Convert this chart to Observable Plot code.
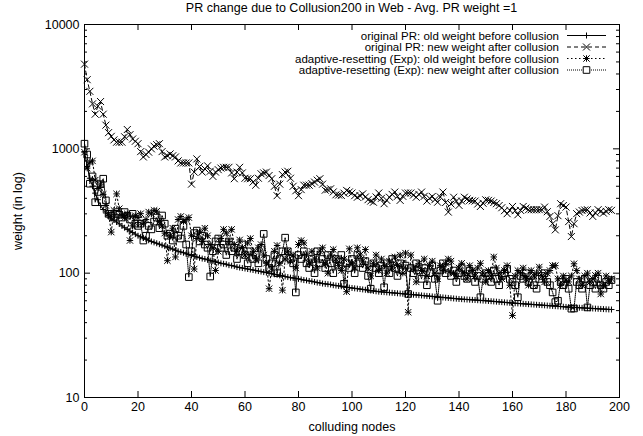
<!DOCTYPE html>
<html><head><meta charset="utf-8">
<script src="https://cdn.jsdelivr.net/npm/d3@7"></script>
<script src="https://cdn.jsdelivr.net/npm/@observablehq/plot@0.6"></script>
<style>
body{margin:0;background:#fff;font-family:"Liberation Sans",Arial,sans-serif;}
#wrap{position:relative;width:643px;height:436px;overflow:hidden;}
#title{position:absolute;left:84px;top:1px;width:535px;text-align:center;font-size:12.5px;line-height:15px;color:#000;}
#chart{position:absolute;left:0;top:16px;}
#legend{position:absolute;left:0;top:0;pointer-events:none;}
</style></head><body>
<div id="wrap">
<div id="title">PR change due to Collusion200 in Web - Avg. PR weight =1</div>
<div id="chart"></div>
<svg id="legend" width="643" height="436"></svg>
</div>
<script>
const titleText = "PR change due to Collusion200 in Web - Avg. PR weight =1";
const seriesNames = [
  "original PR: old weight before collusion",
  "original PR: new weight after collusion",
  "adaptive-resetting (Exp): old weight before collusion",
  "adaptive-resetting (Exp): new weight after collusion"
];
const xTicks = [0,20,40,60,80,100,120,140,160,180,200];
const yTicks = [10,100,1000,10000];
const yMinor = [20,30,40,50,60,70,80,90,200,300,400,500,600,700,800,900,2000,3000,4000,5000,6000,7000,8000,9000];

// original PR: old weight before collusion (index = colluding node)
const origOld = [950,720,580,500,440,390,350,325,305,290,278,268,258,249,240,232,225,218,212,206,
200,196,192,188,184,180,177,174,171,168,165,162,159,156,153,150,148,146,143,141,
139,137,135,133,131,130,128,126,125,123,122,120,119,118,116,115,114,112,111,110,
109,108,107,106,105,104,103,102,101,100,99,98,97,96,95,94,93,92,91.5,90.5,
90,89,88,87.5,86.5,86,85,84,83.5,82.5,82,81.5,81,80,79.5,79,78.5,78,77,76.5,
76,75.5,75,74.5,74,73.5,73,72.5,72,71.5,71,70.7,70.4,70.1,69.8,69.5,69.2,68.9,68.6,68.3,
68,67.7,67.4,67.1,66.8,66.5,66.2,65.9,65.6,65.3,65,64.7,64.4,64.1,63.8,63.5,63.2,62.9,62.6,62.3,
62,61.8,61.6,61.4,61.2,61,60.8,60.6,60.4,60.2,60,59.75,59.5,59.25,59,58.75,58.5,58.25,58,57.75,
57.5,57.3,57.1,56.9,56.7,56.5,56.3,56.1,55.9,55.7,55.5,55.3,55.1,54.9,54.7,54.5,54.3,54.1,53.9,53.7,
53.5,53.35,53.2,53.05,52.9,52.75,52.6,52.45,52.3,52.15,52,51.85,51.7,51.55,51.4,51.25,51.1,51.0];

// original PR: new weight after collusion
const origNew = [4800,3600,2900,2300,1900,2200,2400,1900,1550,1350,1260,1180,1130,1130,1130,1250,1430,1300,1200,1150,
1100,950,860,900,940,1000,1050,1080,1100,950,860,880,910,880,860,800,770,770,770,770,
520,650,830,720,650,690,730,660,600,650,680,700,710,710,710,640,575,650,710,640,
580,575,575,540,510,580,630,640,650,610,575,500,420,520,620,650,660,580,500,460,
420,470,510,510,510,525,540,560,575,520,465,470,477,450,427,425,422,440,463,450,
441,420,408,420,434,410,390,380,372,410,441,400,362,385,408,430,449,415,385,415,
441,441,441,425,408,430,449,415,380,400,414,390,372,410,449,370,310,360,408,380,
351,380,408,395,385,382,380,360,344,365,389,385,380,370,362,350,336,318,301,320,
344,318,295,320,344,334,324,324,324,324,324,324,340,312,286,250,223,290,362,350,
340,260,197,250,301,310,319,322,324,305,286,305,324,314,304,314,324,320];

// adaptive-resetting (Exp): old weight before collusion
const adaptOld = [940,700,780,800,560,480,520,430,350,300,214,320,434,330,290,280,300,183,240,290,
280,301,250,270,310,300,320,315,260,240,210,126,200,230,135,270,286,260,270,280,
200,108,190,215,180,230,200,170,160,105,150,190,225,210,180,225,170,150,185,160,
140,175,190,150,130,160,170,140,120,75,110,150,167,120,73,130,150,125,140,110,
170,183,175,140,120,150,130,110,150,160,120,100,140,155,130,115,105,130,71,157,
120,110,160,140,125,155,110,95,120,140,105,130,115,100,125,110,135,115,140,100,
145,48.5,140,110,85,120,105,130,95,115,125,100,90,115,105,120,130,125,100,95,
110,120,100,90,115,105,95,110,120,100,85,105,95,135,110,100,90,105,115,80,
45.7,95,105,100,110,90,80,105,95,100,112,95,85,100,105,115,115,90,80,95,
88,85,95,119,105,90,80,95,100,85,90,96,100,68,80,95,87,90];

// adaptive-resetting (Exp): new weight after collusion
const adaptNew = [1100,900,524,600,372,450,520,575,385,300,290,280,300,295,280,310,290,270,300,250,
240,250,183,200,240,225,260,280,230,291,250,200,208,183,228,200,190,240,170,93,
150,210,220,180,200,170,160,94,150,180,190,160,170,140,180,150,160,130,150,170,
140,120,150,130,140,120,160,207,130,110,120,140,100,130,150,193,150,130,120,70,
140,130,150,120,110,130,100,150,120,130,110,140,120,100,130,115,140,82,120,110,
130,100,140,120,110,125,95,75,120,110,100,115,77,120,100,130,110,95,120,105,
115,68,110,100,120,105,90,110,80,100,115,90,60,105,120,100,110,95,105,85,
100,110,95,90,105,100,85,95,64,90,100,95,85,105,90,80,95,100,108,90,
85,80,64,95,90,100,85,95,80,75,90,95,100,85,80,70,58.5,60,85,80,
90,75,51.8,52,85,80,75,90,53,80,85,75,90,80,75,85,80,88];

const seriesValues = [origOld, origNew, adaptOld, adaptNew];

// gnuplot-like point symbols (stroked)
const half = size => Math.sqrt(size / Math.PI);
const symPlus = {draw(c, s){const h=half(s); c.moveTo(-h,0); c.lineTo(h,0); c.moveTo(0,-h); c.lineTo(0,h);}};
const symTimes = {draw(c, s){const h=half(s); c.moveTo(-h,-h); c.lineTo(h,h); c.moveTo(-h,h); c.lineTo(h,-h);}};
const symStar = {draw(c, s){const h=half(s); c.moveTo(-h,0); c.lineTo(h,0); c.moveTo(0,-h); c.lineTo(0,h); c.moveTo(-h,-h); c.lineTo(h,h); c.moveTo(-h,h); c.lineTo(h,-h);}};
const symSquare = {draw(c, s){const h=half(s); c.moveTo(-h,-h); c.lineTo(h,-h); c.lineTo(h,h); c.lineTo(-h,h); c.closePath();}};

const styles = [
  {symbol: symPlus, dash: null, r: 3},
  {symbol: symTimes, dash: "4,3", r: 3.5},
  {symbol: symStar, dash: "1.5,2.5", r: 3.2},
  {symbol: symSquare, dash: "1,1", r: 3.3}
];

const data = seriesValues.map(vals => vals.map((v, i) => ({node: i, w: v})));

const W = 643, H = 420, mT = 8, mB = 39, mL = 84, mR = 24;
const fh = H - mT - mB, fw = W - mL - mR;
const FONT = "'Liberation Sans', Arial, sans-serif";

const marks = [];
data.forEach((d, k) => {
  marks.push(Plot.line(d, {x: "node", y: "w", stroke: "black", strokeWidth: 1, strokeDasharray: styles[k].dash}));
});
data.forEach((d, k) => {
  marks.push(Plot.dot(d, {x: "node", y: "w", symbol: styles[k].symbol, r: styles[k].r, stroke: "black", fill: "none", strokeWidth: 1}));
});

const chart = Plot.plot({
  width: W, height: H,
  marginTop: mT, marginBottom: mB, marginLeft: mL, marginRight: mR,
  style: {fontFamily: FONT, fontSize: "12.5px", color: "black", background: "white"},
  x: {domain: [0, 200]},
  y: {type: "log", domain: [10, 10000]},
  marks: [
    Plot.axisX({ticks: xTicks, tickSize: 0, tickPadding: 5, tickFormat: d3.format("d"), label: "colluding nodes", labelAnchor: "center", labelArrow: "none", labelOffset: 33}),
    Plot.axisY({ticks: yTicks, tickSize: 0, tickPadding: 5, tickFormat: d3.format("d"), label: "weight (in log)", labelAnchor: "center", labelArrow: "none", labelOffset: 71}),
    Plot.tickX(xTicks, {x: d => d, stroke: "black", insetTop: fh - 6}),
    Plot.tickX(xTicks, {x: d => d, stroke: "black", insetBottom: fh - 6}),
    Plot.tickY(yTicks, {y: d => d, stroke: "black", insetRight: fw - 6}),
    Plot.tickY(yTicks, {y: d => d, stroke: "black", insetLeft: fw - 6}),
    Plot.tickY(yMinor, {y: d => d, stroke: "black", insetRight: fw - 3}),
    Plot.tickY(yMinor, {y: d => d, stroke: "black", insetLeft: fw - 3}),
    ...marks,
    Plot.frame({stroke: "black", strokeWidth: 1})
  ]
});
document.getElementById("chart").appendChild(chart);

// legend (gnuplot key, top-right inside the plot)
const lg = d3.select("#legend");
const rowY = [35.5, 47, 58.5, 70];
const textRight = 559, sx1 = 567, sx2 = 606;
seriesNames.forEach((name, k) => {
  const y = rowY[k];
  lg.append("text").attr("x", textRight).attr("y", y).attr("text-anchor", "end")
    .attr("dominant-baseline", "central").attr("font-size", 11.5)
    .attr("font-family", FONT).text(name);
  lg.append("line").attr("x1", sx1).attr("x2", sx2).attr("y1", y).attr("y2", y)
    .attr("stroke", "black").attr("stroke-width", 1)
    .attr("stroke-dasharray", styles[k].dash);
  const p = d3.path();
  styles[k].symbol.draw(p, Math.PI * styles[k].r * styles[k].r);
  lg.append("path").attr("d", p.toString()).attr("transform", `translate(${(sx1 + sx2) / 2},${y})`)
    .attr("stroke", "black").attr("fill", k === 3 ? "white" : "none");
});
</script>
</body></html>
